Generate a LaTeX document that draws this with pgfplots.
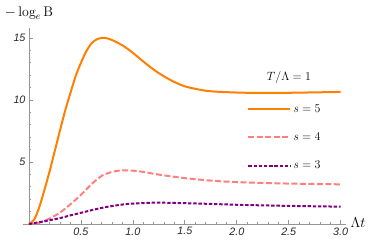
\documentclass[border=0pt]{standalone}
\usepackage{fontspec}
\setsansfont{Liberation Sans}
\usepackage{pgfplots}
\pgfplotsset{compat=1.18}
\definecolor{mOrange}{RGB}{255,128,0}
\definecolor{mPink}{RGB}{255,128,128}
\definecolor{mPurple}{RGB}{128,0,128}
\definecolor{axgray}{RGB}{150,150,150}
\begin{document}
\begin{tikzpicture}
\begin{axis}[
  at={(29bp,-224bp)}, anchor=origin,
  scale only axis,
  width=323.1bp, height=197.2bp,
  xmin=-0.06, xmax=3.05, ymin=-0.1, ymax=15.8,
  axis lines=middle,
  axis line style={-, axgray, line width=0.8bp},
  xtick={0.5,1.0,1.5,2.0,2.5,3.0},
  ytick={5,10,15},
  minor xtick={0.1,0.2,0.3,0.4,0.6,0.7,0.8,0.9,1.1,1.2,1.3,1.4,1.6,1.7,1.8,1.9,2.1,2.2,2.3,2.4,2.6,2.7,2.8,2.9},
  minor ytick={1,2,3,4,6,7,8,9,11,12,13,14},
  tick align=inside,
  major tick length=4bp, minor tick length=2.3bp,
  tick style={axgray, line width=0.7bp},
  xticklabel style={/pgf/number format/fixed, /pgf/number format/precision=1, /pgf/number format/fixed zerofill},
  /pgf/number format/assume math mode=true,
  tick label style={font=\fontsize{10.8}{12}\selectfont\sffamily\itshape, text=black!85},
  legend style={at={(axis cs:2.10,9.8)}, anchor=north west, draw=none, fill=none,
    inner sep=0pt, row sep=15bp, font=\fontsize{13}{15}\selectfont,
    nodes={inner sep=2bp}},
  legend cell align=left,
  legend image code/.code={\draw[#1] (0bp,0bp) -- (42bp,0bp);},
]
\addplot[mOrange, line width=2bp, smooth] coordinates {
(0,0) (0.05,0.36) (0.1,1.38) (0.15,2.8) (0.2,4.3) (0.25,5.95) (0.3,7.6) (0.35,9.2)
(0.4,10.6) (0.45,11.95) (0.5,13.0) (0.55,13.9) (0.6,14.55) (0.65,14.88) (0.7,15.0)
(0.75,14.97) (0.8,14.83) (0.9,14.4) (1.0,13.8) (1.1,13.1) (1.2,12.45) (1.3,11.9)
(1.4,11.45) (1.5,11.1) (1.6,10.9) (1.7,10.75) (1.8,10.67) (2.0,10.6) (2.2,10.57)
(2.5,10.58) (2.8,10.62) (3.0,10.65)};
\addlegendentry{$s=5$}
\addplot[mPink, line width=2bp, smooth, dash pattern=on 6bp off 2.5bp] coordinates {
(0,0) (0.1,0.12) (0.2,0.45) (0.3,0.93) (0.4,1.6) (0.5,2.35) (0.6,3.2) (0.7,3.88)
(0.8,4.2) (0.9,4.33) (1.0,4.3) (1.1,4.2) (1.25,3.98) (1.5,3.7) (1.75,3.5) (2.0,3.38)
(2.5,3.26) (3.0,3.2)};
\addlegendentry{$s=4$}
\addplot[mPurple, line width=2bp, smooth, dash pattern=on 3.4bp off 1.8bp] coordinates {
(0,0) (0.13,0.19) (0.29,0.46) (0.4,0.7) (0.5,0.9) (0.61,1.13) (0.75,1.38) (0.93,1.6)
(1.1,1.69) (1.25,1.72) (1.5,1.68) (1.86,1.59) (2.0,1.55) (2.5,1.46) (3.0,1.40)};
\addlegendentry{$s=3$}
\end{axis}
\node[anchor=base] at (29bp,-16.5bp) {\fontsize{14}{16}\selectfont$-\log_e \mathrm{B}$};
\node[anchor=base west] at (347bp,-227bp) {\fontsize{14}{16}\selectfont$\Lambda t$};
\node[anchor=base] at (289bp,-80.5bp) {\fontsize{13}{15}\selectfont$T/\Lambda=1$};
\pgfresetboundingbox
\path[use as bounding box] (0,0) rectangle (374bp,-242bp);
\end{tikzpicture}
\end{document}
